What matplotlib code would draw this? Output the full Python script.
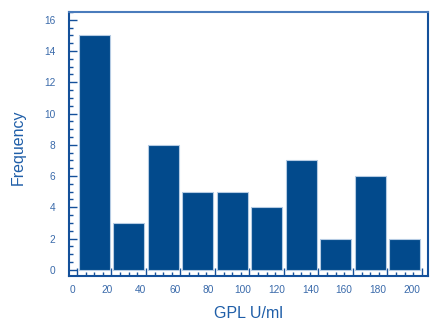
import matplotlib
matplotlib.use("Agg")
import matplotlib.pyplot as plt
from matplotlib.ticker import MultipleLocator
import matplotlib.transforms as mtransforms

bin_edges = [0, 20, 40, 60, 80, 100, 120, 140, 160, 180, 200]
counts = [15, 3, 8, 5, 5, 4, 7, 2, 6, 2]
x_label = "GPL U/ml"
y_label = "Frequency"

plt.rcParams['font.family'] = ['Liberation Sans', 'DejaVu Sans']

bar_color = '#024a8c'
edge_color = '#b5cbe3'
spine_color = '#14509a'
label_color = '#1f5ea8'
tick_color = '#3a6aaa'

fig = plt.figure(figsize=(4.31, 3.2), dpi=100)
ax = fig.add_axes([69/431, 1-276/320, (428-69)/431, (276-12)/320])

lefts = bin_edges[:-1]
widths = [bin_edges[i+1]-bin_edges[i] for i in range(len(lefts))]
centers = [l + w/2 for l, w in zip(lefts, widths)]
ax.bar(centers, counts, width=[w*0.9 for w in widths], color=bar_color,
       edgecolor=edge_color, linewidth=0.8, zorder=2)

ax.set_xlim(-4.6, 203.5)
ax.set_ylim(-0.4, 16.5)
ax.xaxis.set_major_locator(MultipleLocator(20))
ax.xaxis.set_minor_locator(MultipleLocator(5))
ax.yaxis.set_major_locator(MultipleLocator(2))
ax.yaxis.set_minor_locator(MultipleLocator(0.5))

ax.tick_params(axis='both', which='major', direction='in', length=6, width=1,
               color=spine_color, labelcolor=tick_color, labelsize=7.3)
ax.tick_params(axis='both', which='minor', direction='in', length=3.2, width=1,
               color=spine_color)
ax.tick_params(axis='x', pad=6.5)
ax.tick_params(axis='y', pad=10)

fig.canvas.draw()
for tk in ax.xaxis.get_major_ticks():
    v = tk.get_loc()
    off = mtransforms.ScaledTranslation(-(4 + 6*v/200)/100, 0, fig.dpi_scale_trans)
    tk.label1.set_transform(tk.label1.get_transform() + off)

for side, sp in ax.spines.items():
    sp.set_color(spine_color)
    sp.set_linewidth(1.5)
ax.spines['top'].set_color('#4a7cbc')

ax.set_xlabel(x_label, fontsize=11.5, color=label_color, va='baseline')
ax.xaxis.set_label_coords(0.4986, (276-318.3)/264)
ax.set_ylabel(y_label, fontsize=11.5, color=label_color, va='center')
ax.yaxis.set_label_coords((18.5-69)/359, (276-147.5)/264)

fig.savefig("out.png", dpi=100)
